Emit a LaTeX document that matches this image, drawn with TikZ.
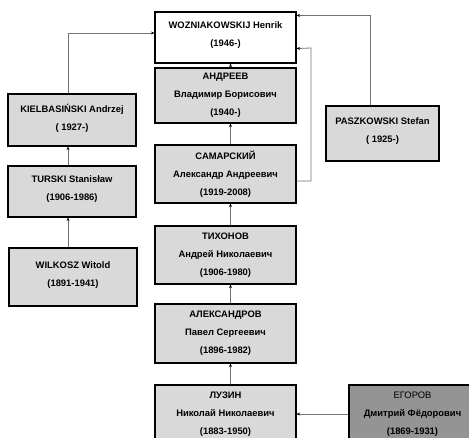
\documentclass[tikz,border=0pt]{standalone}
\usepackage{fontspec}
\setmainfont{Liberation Sans}
\usetikzlibrary{arrows.meta}

\tikzset{
  person/.style={draw=black,line width=1.1pt,fill=black!15,align=center,inner sep=0pt,
    font=\fontsize{9.4}{18}\selectfont\bfseries},
  topbox/.style={person,fill=white},
  oldbox/.style={person,fill=black!42},
  link/.style={draw=black!55,line width=0.8pt,-{Stealth[length=3.5pt,width=3pt,black]}}
}

\begin{document}
\begin{tikzpicture}[x=1pt,y=-1pt]
      \useasboundingbox [fill=white] (0,0) rectangle (469,438);

      \node [topbox,minimum width=141pt,minimum height=51pt] (woz) at (225.5,37.5) {WOZNIAKOWSKIJ Henrik\\(1946-)\\[-12pt]};
      \node [person,minimum width=141pt,minimum height=55pt] (andr) at (225.5,95.5) {АНДРЕЕВ\\Владимир Борисович\\(1940-)};
      \node [person,minimum width=141pt,minimum height=58pt] (sam) at (225.5,174) {САМАРСКИЙ\\Александр Андреевич\\(1919-2008)};
      \node [person,minimum width=141pt,minimum height=58pt] (tikh) at (225.5,255) {ТИХОНОВ\\Андрей Николаевич\\(1906-1980)};
      \node [person,minimum width=141pt,minimum height=59pt] (alex) at (225.5,333.5) {АЛЕКСАНДРОВ\\Павел Сергеевич\\(1896-1982)};
      \node [person,minimum width=141pt,minimum height=58pt] (luz) at (225.5,414) {ЛУЗИН\\Николай Николаевич\\(1883-1950)};
      \node [oldbox,minimum width=127pt,minimum height=58pt] (egor) at (412.5,414) {{\mdseries ЕГОРОВ}\\Дмитрий Фёдорович\\(1869-1931)};

      \node [person,minimum width=128pt,minimum height=52pt] (kiel) at (72,120) {KIELBASIŃSKI  Andrzej\\( 1927-)\\[-12pt]};
      \node [person,minimum width=128pt,minimum height=51pt] (turs) at (72,191.5) {TURSKI Stanisław\\(1906-1986)\\[-12pt]};
      \node [person,minimum width=128pt,minimum height=58pt] (wilk) at (73,277) {WILKOSZ Witold\\(1891-1941)\\[-12pt]};

      \node [person,minimum width=113pt,minimum height=55pt] (pasz) at (382.5,133.5) {PASZKOWSKI Stefan\\( 1925-)\\[-12pt]};

      \draw [link] ([xshift=5pt]andr.north) to ([xshift=5pt]woz.south);
      \draw [link] ([xshift=5pt]sam.north) to ([xshift=5pt]andr.south);
      \draw [link] ([xshift=5pt]tikh.north) to ([xshift=5pt]sam.south);
      \draw [link] ([xshift=5pt]alex.north) to ([xshift=5pt]tikh.south);
      \draw [link] ([xshift=5pt]luz.north) to ([xshift=5pt]alex.south);
      \draw [link] (egor.west) to (luz.east);

      \draw [link] ([xshift=-4pt]turs.north) to ([xshift=-4pt]kiel.south);
      \draw [link] ([xshift=-5pt]wilk.north) to ([xshift=-4pt]turs.south);
      \draw [link] ([xshift=-4pt]kiel.north) |- ([yshift=4.5pt]woz.west);

      \draw [link] ([xshift=-12.5pt]pasz.north) |- ([yshift=-4pt]woz.north east);
      \draw [link] ([yshift=-7pt]sam.east) -| (311,48) to ([yshift=15pt]woz.south east);

    \end{tikzpicture}
\end{document}
